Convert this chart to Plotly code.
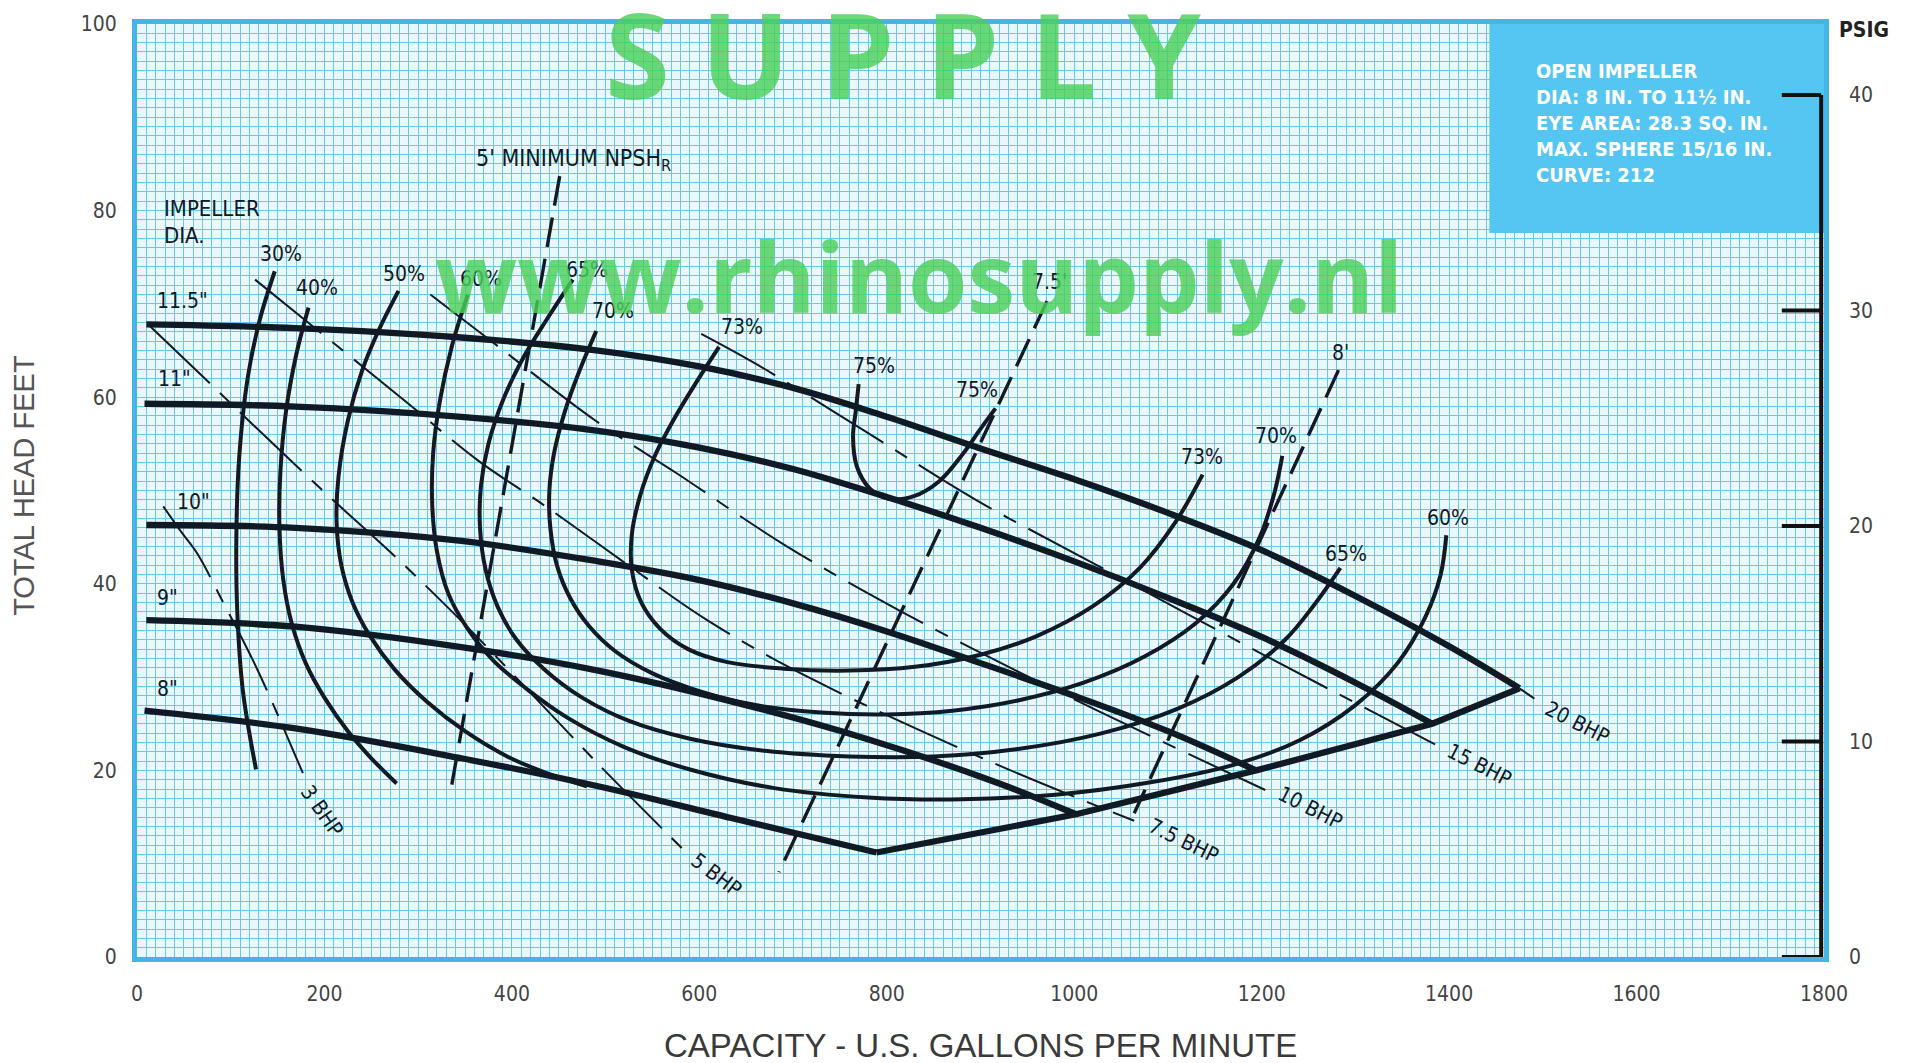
import plotly.graph_objects as go

# ---------------- DATA (capacity in US gpm, head in feet) ----------------
# Impeller diameter head curves
imp115_q = [10, 169, 346, 492, 600, 700, 800, 900, 1000, 1100, 1200, 1300, 1400, 1475]
imp115_h = [67.8, 67.4, 66.4, 65.0, 63.3, 61.0, 57.9, 54.5, 51.2, 47.6, 43.6, 38.7, 33.3, 28.8]
imp11_q = [8, 169, 346, 492, 600, 700, 800, 900, 1000, 1100, 1200, 1300, 1382]
imp11_h = [59.3, 59.0, 57.9, 56.4, 54.6, 52.3, 49.3, 46.0, 42.4, 38.5, 34.3, 29.4, 25.0]
imp10_q = [10, 169, 346, 492, 600, 700, 800, 900, 1000, 1100, 1194]
imp10_h = [46.3, 46.0, 44.6, 42.4, 40.4, 37.9, 34.9, 31.5, 28.0, 24.2, 20.0]
imp9_q = [10, 169, 346, 492, 634, 778, 920, 1002]
imp9_h = [36.1, 35.4, 33.2, 30.7, 27.4, 23.4, 18.6, 15.3]
imp8_q = [8, 169, 346, 492, 634, 789]
imp8_h = [26.4, 24.5, 21.3, 18.3, 14.9, 11.2]
# end-of-curve envelope
env_q = [789, 1002, 1194, 1382, 1475]
env_h = [11.2, 15.3, 20.0, 25.0, 28.8]

# Efficiency curves
eff30_q = [147, 131, 118, 109, 106, 107, 113, 127]
eff30_h = [73.5, 68.3, 62.0, 53.5, 45.0, 37.0, 28.5, 20.1]
eff40_q = [183, 170, 159, 153, 152, 156, 165, 180, 200, 225, 250, 277]
eff40_h = [69.6, 64.6, 58.5, 52.0, 46.0, 40.5, 35.8, 31.5, 27.8, 24.2, 21.3, 18.6]
eff50_q = [279, 258, 240, 225, 215, 213, 218, 230, 248, 275, 310, 350, 395, 440, 480]
eff50_h = [71.4, 67.2, 62.8, 57.5, 51.5, 46.5, 42.0, 38.0, 34.5, 30.8, 27.3, 24.2, 21.5, 19.6, 18.3]
eff60_q = [353, 336, 323, 316, 315, 320, 332, 352, 380, 415, 460, 520, 590, 680, 780, 880, 980,
           1080, 1170, 1240, 1300, 1345, 1375, 1391, 1397]
eff60_h = [71.0, 65.5, 59.5, 54.0, 48.5, 43.5, 39.0, 35.3, 31.8, 28.8, 25.6, 22.5, 20.1, 18.1, 17.1,
           16.9, 17.4, 18.7, 20.6, 23.2, 27.0, 31.5, 36.5, 41.0, 45.2]
eff65_q = [465, 437, 412, 391, 375, 367, 366, 372, 385, 405, 435, 475, 525, 590, 670, 760, 850, 940,
           1030, 1110, 1175, 1225, 1258, 1284]
eff65_h = [72.6, 68.3, 64.2, 59.8, 55.0, 50.5, 46.0, 41.5, 37.5, 34.0, 30.8, 27.8, 25.3, 23.4, 22.1,
           21.5, 21.5, 22.3, 24.0, 26.6, 30.0, 34.0, 38.0, 41.7]
eff70_q = [490, 472, 456, 445, 440, 441, 448, 462, 482, 510, 550, 600, 660, 730, 800, 870, 940, 1010,
           1075, 1130, 1170, 1198, 1214, 1222]
eff70_h = [67.1, 62.8, 58.3, 54.0, 50.0, 46.0, 42.0, 38.5, 35.5, 32.8, 30.4, 28.5, 27.0, 26.2, 26.0,
           26.4, 27.5, 29.4, 32.2, 35.8, 40.0, 45.0, 49.9, 53.7]
eff73_q = [621, 598, 575, 553, 537, 528, 528, 538, 558, 588, 630, 690, 760, 830, 900, 960, 1020, 1070,
           1108, 1137]
eff73_h = [65.4, 61.8, 58.0, 53.8, 49.5, 45.3, 41.5, 38.0, 35.2, 33.0, 31.6, 30.9, 30.7, 31.1, 32.4,
           34.4, 37.6, 41.7, 46.6, 51.7]
eff75_q = [770, 767, 764, 768, 782, 802, 829, 856, 881, 900, 916]
eff75_h = [61.4, 58.6, 55.8, 52.6, 50.2, 49.1, 49.4, 51.0, 53.9, 56.6, 58.8]

# NPSH required lines
npsh5_q = [451, 334]
npsh5_h = [83.7, 17.4]
npsh75_q = [971, 685]
npsh75_h = [70.3, 9.1]
npsh8_q = [1282, 1064]
npsh8_h = [62.9, 15.4]

# Brake horsepower lines
bhp3_q = [28, 47, 64, 92, 128, 177]
bhp3_h = [48.3, 45.6, 43.3, 38.0, 30.9, 19.7]
bhp5_q = [12, 87, 119, 197, 282, 361, 492, 586]
bhp5_h = [67.8, 60.6, 57.5, 50.1, 42.3, 34.5, 20.7, 11.2]
bhp75_q = [126, 211, 286, 364, 436, 524, 610, 720, 909, 1064]
bhp75_h = [72.6, 65.7, 59.6, 53.2, 48.3, 42.0, 36.0, 29.8, 21.0, 14.6]
bhp10_q = [313, 382, 489, 575, 692, 816, 920, 1027, 1208]
bhp10_h = [71.0, 65.7, 57.5, 51.9, 44.1, 37.0, 31.6, 26.3, 17.7]
bhp15_q = [602, 660, 784, 895, 1013, 1200, 1385]
bhp15_h = [66.8, 63.6, 55.9, 49.0, 42.6, 32.5, 22.8]
bhp20_q = [1475, 1491]
bhp20_h = [28.8, 27.7]

# Axis ticks
x_ticks = [0, 200, 400, 600, 800, 1000, 1200, 1400, 1600, 1800]
y_ticks = [0, 20, 40, 60, 80, 100]
psig_ticks = [0, 10, 20, 30, 40]
FT_PER_PSI = 2.31

# Text labels (text, q, h)
diam_labels = [('11.5"', 49, 70.3), ('11"', 40, 61.9), ('10"', 60, 48.8), ('9"', 33, 38.5), ('8"', 33, 28.7)]
eff_labels = [("30%", 154, 75.4), ("40%", 192, 71.7), ("50%", 285, 73.2), ("60%", 367, 72.7),
              ("65%", 480, 73.6), ("70%", 508, 69.2), ("73%", 646, 67.5), ("75%", 786, 63.3),
              ("75%", 896, 60.8), ("73%", 1136, 53.6), ("70%", 1215, 55.8), ("65%", 1290, 43.2),
              ("60%", 1399, 47.1)]
npsh_labels = [("7.5'", 974, 72.3), ("8'", 1284, 64.7)]
bhp_labels = [("3 BHP", 197, 15.6, 55), ("5 BHP", 618, 8.8, 37), ("7.5 BHP", 1117, 12.4, 26),
              ("10 BHP", 1252, 16.0, 27), ("15 BHP", 1432, 20.6, 27), ("20 BHP", 1537, 25.1, 27)]
info_lines = ["OPEN IMPELLER", "DIA: 8 IN. TO 11½ IN.", "EYE AREA: 28.3 SQ. IN.",
              "MAX. SPHERE 15/16 IN.", "CURVE: 212"]

# ---------------- STYLE ----------------
INK = "#0f1a24"
NARROW = "Liberation Sans Narrow, DejaVu Sans Condensed, Arial Narrow, sans-serif"
GRID = "#66c9eb"
PAPER_BG = "#e9f8fd"
BORDER = "#45b5e8"

fig = go.Figure()

def add_line(q, h, width, dash="solid", shape="spline", color=INK):
    fig.add_trace(go.Scatter(x=q, y=h, mode="lines",
                             line=dict(color=color, width=width, dash=dash, shape=shape, smoothing=1.0),
                             hoverinfo="skip", showlegend=False))

BHP_DASH = "85px,14px,14px,14px"
for q, h in [(bhp3_q, bhp3_h), (bhp5_q, bhp5_h), (bhp75_q, bhp75_h), (bhp10_q, bhp10_h), (bhp15_q, bhp15_h)]:
    add_line(q, h, 2, dash=BHP_DASH)
add_line(bhp20_q, bhp20_h, 2, shape="linear")

NPSH_DASH = "30px,12px"
for q, h in [(npsh5_q, npsh5_h), (npsh75_q, npsh75_h), (npsh8_q, npsh8_h)]:
    add_line(q, h, 3.4, dash=NPSH_DASH, shape="linear")

for q, h in [(eff30_q, eff30_h), (eff40_q, eff40_h), (eff50_q, eff50_h), (eff60_q, eff60_h),
             (eff65_q, eff65_h), (eff70_q, eff70_h), (eff73_q, eff73_h), (eff75_q, eff75_h)]:
    add_line(q, h, 4)

for q, h in [(imp115_q, imp115_h), (imp11_q, imp11_h), (imp10_q, imp10_h), (imp9_q, imp9_h), (imp8_q, imp8_h)]:
    add_line(q, h, 6.3)
add_line(env_q, env_h, 6.3, shape="linear")

# invisible trace to activate the PSIG axis
fig.add_trace(go.Scatter(x=[0], y=[0], yaxis="y2", mode="markers", marker=dict(opacity=0),
                         hoverinfo="skip", showlegend=False))

annotations = []
lab_font = dict(family=NARROW, size=21, color=INK)
annotations.append(dict(x=27, y=80.2, text="IMPELLER", xanchor="left", yanchor="middle", showarrow=False,
                        font=dict(family=NARROW, size=22, color=INK)))
annotations.append(dict(x=27, y=77.3, text="DIA.", xanchor="left", yanchor="middle", showarrow=False,
                        font=dict(family=NARROW, size=22, color=INK)))
for t, q, h in diam_labels + eff_labels + npsh_labels:
    annotations.append(dict(x=q, y=h, text=t, showarrow=False, font=lab_font))
annotations.append(dict(x=360, y=85.4, text="5' MINIMUM NPSH<sub>R</sub>", xanchor="left", showarrow=False,
                        font=dict(family=NARROW, size=23, color=INK)))
for t, q, h, ang in bhp_labels:
    annotations.append(dict(x=q, y=h, text=t, textangle=ang, showarrow=False, font=lab_font))

# info box text
annotations.append(dict(x=1491, y=96.5, xanchor="left", yanchor="top", align="left", showarrow=False,
                        text="<br>".join("<b>%s</b>" % s for s in info_lines),
                        font=dict(family=NARROW, size=20, color="white")))

# watermarks
annotations.append(dict(x=817, y=96.8, text="<b>S U P P L Y</b>", showarrow=False,
                        font=dict(family="Open Sans, Lato, sans-serif", size=118, color="rgba(75,208,90,0.82)")))
annotations.append(dict(x=834, y=73.0, text="<b>www.rhinosupply.nl</b>", showarrow=False,
                        font=dict(family="Open Sans, Lato, sans-serif", size=96, color="rgba(75,208,90,0.82)")))

# axis titles
annotations.append(dict(xref="paper", yref="paper", x=0.5, y=-0.0948, xanchor="center", yanchor="middle",
                        text="CAPACITY - U.S. GALLONS PER MINUTE", showarrow=False,
                        font=dict(family="Liberation Sans, Arial, sans-serif", size=33, color="#3a3a3a")))
annotations.append(dict(xref="paper", yref="paper", x=-0.067, y=0.506, xanchor="center", yanchor="middle",
                        textangle=-90, text="TOTAL HEAD FEET", showarrow=False,
                        font=dict(family="Liberation Sans, Arial, sans-serif", size=29, color="#555555")))
annotations.append(dict(xref="paper", yref="paper", x=1.0237, y=0.9936, xanchor="center", yanchor="middle",
                        text="<b>PSIG</b>", showarrow=False,
                        font=dict(family=NARROW, size=21, color="#222222")))

shapes = []
# info box
shapes.append(dict(type="rect", xref="x", yref="y", x0=1443, x1=1800, y0=77.6, y1=100,
                   fillcolor="#55c6f1", line=dict(width=0), layer="between"))
# PSIG scale line and ticks
shapes.append(dict(type="line", xref="x", yref="y2", x0=1797, x1=1797, y0=0, y1=psig_ticks[-1],
                   line=dict(color="#111111", width=4), layer="above"))
for p in psig_ticks:
    shapes.append(dict(type="line", xref="x", yref="y2", x0=1755, x1=1797, y0=p, y1=p,
                       line=dict(color="#111111", width=4), layer="above"))

tick_font = dict(family=NARROW, size=21, color="#444444")
fig.update_layout(
    width=1914, height=1063, autosize=False,
    margin=dict(l=137, r=90, t=18, b=106),
    paper_bgcolor="white", plot_bgcolor=PAPER_BG,
    showlegend=False,
    xaxis=dict(range=[0, 1800], tickvals=x_ticks, ticktext=[str(v) for v in x_ticks],
               showgrid=True, gridcolor=GRID, gridwidth=1.3, zeroline=False,
               showline=True, linecolor=BORDER, linewidth=5, mirror=True,
               ticks="", ticklabelstandoff=14, tickfont=tick_font,
               minor=dict(dtick=10, showgrid=True, gridcolor=GRID, gridwidth=1.1)),
    yaxis=dict(range=[0, 100], tickvals=y_ticks, ticktext=[str(v) for v in y_ticks],
               showgrid=True, gridcolor=GRID, gridwidth=1.3, zeroline=False,
               showline=True, linecolor=BORDER, linewidth=5, mirror=True,
               ticks="", ticklabelstandoff=11, tickfont=tick_font,
               minor=dict(dtick=1, showgrid=True, gridcolor=GRID, gridwidth=1.1)),
    yaxis2=dict(range=[0, 100 / FT_PER_PSI], overlaying="y", side="right", tickvals=psig_ticks,
                ticktext=[str(v) for v in psig_ticks], showgrid=False, zeroline=False,
                showline=False, ticks="", ticklabelstandoff=24, tickfont=tick_font),
    annotations=annotations, shapes=shapes,
)

fig.write_html("out.html", config={"displayModeBar": False},
               post_script="document.body.style.margin='0';document.body.style.overflow='hidden';")
